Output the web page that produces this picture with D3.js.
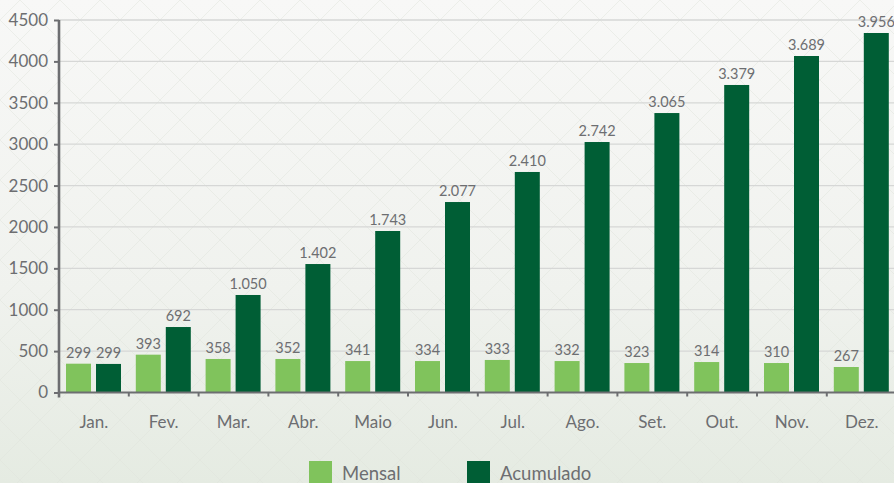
<!DOCTYPE html>
<html>
<head>
<meta charset="utf-8">
<script src="https://cdn.jsdelivr.net/npm/d3@7"></script>
<style>
  html, body { margin: 0; padding: 0; background: #f3f5f1; }
  svg { display: block; font-family: Lato, "Open Sans", sans-serif; }
</style>
</head>
<body>
<div id="chart"></div>
<script>
// months and series
const months = ["Jan.", "Fev.", "Mar.", "Abr.", "Maio", "Jun.", "Jul.", "Ago.", "Set.", "Out.", "Nov.", "Dez."];
// bar heights as drawn in the picture
const mensal = [348, 457, 405, 405, 380, 380, 393, 380, 356, 368, 356, 308];
const acumulado = [345, 791, 1178, 1552, 1951, 2301, 2664, 3026, 3376, 3715, 4065, 4343];
// printed value labels
const mensalLabels = ["299", "393", "358", "352", "341", "334", "333", "332", "323", "314", "310", "267"];
const acumuladoLabels = ["299", "692", "1.050", "1.402", "1.743", "2.077", "2.410", "2.742", "3.065", "3.379", "3.689", "3.956"];
const yTicks = [0, 500, 1000, 1500, 2000, 2500, 3000, 3500, 4000, 4500];
const seriesNames = ["Mensal", "Acumulado"];
const colors = ["#80c35c", "#005e35"];

const width = 894, height = 483;
const svg = d3.select("#chart").append("svg")
    .attr("width", width)
    .attr("height", height);

// background
const defs = svg.append("defs");
const grad = defs.append("linearGradient").attr("id", "bg").attr("x1", 0).attr("y1", 0).attr("x2", 0).attr("y2", 1);
grad.append("stop").attr("offset", "0%").attr("stop-color", "#f8f8f7");
grad.append("stop").attr("offset", "60%").attr("stop-color", "#f0f2ee");
grad.append("stop").attr("offset", "100%").attr("stop-color", "#e5ebe2");
const pat = defs.append("pattern").attr("id", "diam").attr("patternUnits", "userSpaceOnUse")
    .attr("width", 40).attr("height", 40);
pat.append("path").attr("d", "M0,20 L20,0 L40,20 L20,40 Z")
    .attr("fill", "none").attr("stroke", "#dfe4dc").attr("stroke-width", 1).attr("opacity", 0.5);

svg.append("rect").attr("width", width).attr("height", height).attr("fill", "url(#bg)");
svg.append("rect").attr("width", width).attr("height", height).attr("fill", "url(#diam)");

const x0 = 59, bandStep = 69.8;
const x = d3.scaleBand().domain(months).range([x0, x0 + bandStep * months.length]).padding(0);
const xInner = d3.scaleBand().domain(seriesNames).range([7, 62]).paddingInner(1 / 6).paddingOuter(0);
const y = d3.scaleLinear().domain([0, 4500]).range([392.5, 20]);

const textColor = "#6d6e71";

// gridlines
svg.append("g")
    .selectAll("line")
    .data(yTicks.filter(d => d > 0))
    .join("line")
    .attr("x1", x0).attr("x2", width)
    .attr("y1", d => y(d)).attr("y2", d => y(d))
    .attr("stroke", "#d6d7d6").attr("stroke-width", 1.3);

// bars
const groups = svg.append("g")
    .selectAll("g")
    .data(months)
    .join("g")
    .attr("transform", d => `translate(${x(d)},0)`);

const series = [mensal, acumulado];
const seriesLabels = [mensalLabels, acumuladoLabels];

groups.each(function (m, i) {
    const g = d3.select(this);
    seriesNames.forEach((s, k) => {
        const v = series[k][i];
        g.append("rect")
            .attr("x", xInner(s))
            .attr("width", xInner.bandwidth())
            .attr("y", y(v))
            .attr("height", y(0) - y(v))
            .attr("fill", colors[k]);
        g.append("text")
            .attr("x", xInner(s) + xInner.bandwidth() / 2)
            .attr("y", y(v) - 6)
            .attr("text-anchor", "middle")
            .attr("font-size", 14.5)
            .attr("fill", textColor)
            .text(seriesLabels[k][i]);
    });
});

// y axis
const yAxis = svg.append("g")
    .attr("transform", `translate(${x0},0)`)
    .call(d3.axisLeft(y).tickValues(yTicks).tickSize(5).tickPadding(6).tickFormat(d3.format("d")));
yAxis.select(".domain").attr("stroke", textColor).attr("stroke-width", 2.6)
    .attr("d", `M0,${y(4500)}V${y(0) + 5}`);
yAxis.selectAll(".tick line").attr("stroke", textColor).attr("stroke-width", 2);
yAxis.selectAll(".tick text").attr("font-size", 17).attr("fill", textColor)
    .attr("font-family", "Lato, sans-serif");

// x axis
const xAxis = svg.append("g");
xAxis.append("line")
    .attr("x1", x0).attr("x2", width)
    .attr("y1", y(0)).attr("y2", y(0))
    .attr("stroke", textColor).attr("stroke-width", 2.2);
xAxis.selectAll(".xt")
    .data(months)
    .join("line")
    .attr("class", "xt")
    .attr("x1", d => x(d)).attr("x2", d => x(d))
    .attr("y1", y(0)).attr("y2", y(0) + 4)
    .attr("stroke", textColor).attr("stroke-width", 2);
xAxis.selectAll(".xl")
    .data(months)
    .join("text")
    .attr("class", "xl")
    .attr("x", d => x(d) + x.bandwidth() / 2)
    .attr("y", y(0) + 35.5)
    .attr("text-anchor", "middle")
    .attr("font-size", 17)
    .attr("fill", textColor)
    .text(d => d);

// legend
const legendX = [309, 467];
const legend = svg.append("g")
    .selectAll("g")
    .data(seriesNames)
    .join("g")
    .attr("transform", (d, i) => `translate(${legendX[i]},461)`);
legend.append("rect")
    .attr("width", 23).attr("height", 23)
    .attr("fill", (d, i) => colors[i]);
legend.append("text")
    .attr("x", 33).attr("y", 19)
    .attr("font-size", 18.5)
    .attr("fill", textColor)
    .text(d => d);
</script>
</body>
</html>
